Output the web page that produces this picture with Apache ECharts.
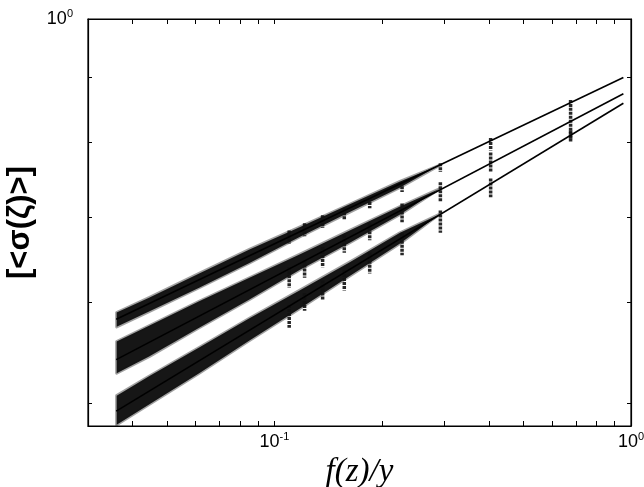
<!DOCTYPE html>
<html>
<head>
<meta charset="utf-8">
<script src="https://cdn.jsdelivr.net/npm/echarts@6/dist/echarts.min.js"></script>
<style>
html,body{margin:0;padding:0;background:#fff;}
#main{width:644px;height:487px;}
</style>
</head>
<body>
<div id="main"></div>
<script>
// fitted straight lines (log-log), [x, y] end points
var lineTop = [[0.036, 0.582], [0.952, 0.900]];
var lineMid = [[0.036, 0.541], [0.952, 0.874]];
var lineBot = [[0.036, 0.493], [0.952, 0.859]];

// dense point clouds: upper / lower edges at these x
var bandX = [0.0361, 0.0445, 0.0615, 0.0851, 0.1176, 0.1626, 0.225, 0.29];
var topUp = [0.589, 0.605, 0.632, 0.660, 0.687, 0.716, 0.746, 0.768];
var topLo = [0.574, 0.590, 0.616, 0.644, 0.675, 0.706, 0.738, 0.768];
var midUp = [0.559, 0.575, 0.601, 0.627, 0.654, 0.683, 0.713, 0.736];
var midLo = [0.528, 0.544, 0.573, 0.603, 0.636, 0.668, 0.703, 0.736];
var botUp = [0.507, 0.525, 0.553, 0.583, 0.613, 0.645, 0.680, 0.703];
var botLo = [0.481, 0.499, 0.528, 0.560, 0.593, 0.629, 0.667, 0.703];

// vertical streaks of points at discrete x: [x, yHigh, yLow]
var streakX = [0.110, 0.1215, 0.1365, 0.157, 0.185, 0.228, 0.292, 0.404, 0.677];
var topStreakHi = [0.683, 0.692, 0.702, 0.711, 0.724, 0.745, 0.771, 0.807, 0.864];
var topStreakLo = [0.667, 0.676, 0.686, 0.696, 0.711, 0.732, 0.759, 0.789, 0.852];
var midStreakHi = [0.639, 0.647, 0.663, 0.677, 0.692, 0.717, 0.745, 0.786, 0.852];
var midStreakLo = [0.616, 0.627, 0.639, 0.656, 0.671, 0.693, 0.719, 0.759, 0.804];
var botStreakHi = [0.597, 0.610, 0.624, 0.636, 0.656, 0.680, 0.708, 0.750, 0.818];
var botStreakLo = [0.573, 0.591, 0.602, 0.613, 0.632, 0.653, 0.680, 0.725, 0.801];

// ticks
var xTicks = [0.04, 0.05, 0.06, 0.07, 0.08, 0.09, 0.1, 0.2, 0.3, 0.4, 0.5, 0.6, 0.7, 0.8, 0.9, 1];
var xLabels = [0.1, 1];
var yTicks = [0.5, 0.6, 0.7, 0.8, 0.9, 1];
var yLabels = [1];

function powLabel(v){
	var e = Math.round(Math.log10(v));
	return '{base|10}{sup|' + e + '}';
}
var labRich = {
	base: {fontSize: 18, fontFamily: 'Liberation Sans', color: '#000'},
	sup: {fontSize: 11, fontFamily: 'Liberation Sans', color: '#000', padding: [0, 0, 11, 0]}
};

function bandSeries(up, lo){
	var pts = [];
	for (var i = 0; i < bandX.length; i++) pts.push([bandX[i], up[i], lo[i]]);
	return {
		type: 'custom',
		silent: true,
		data: pts,
		renderItem: function(params, api){
			if (params.dataIndex !== 0) return;
			var poly = [];
			for (var i = 0; i < pts.length; i++) poly.push(api.coord([pts[i][0], pts[i][1]]));
			for (var j = pts.length - 1; j >= 0; j--) poly.push(api.coord([pts[j][0], pts[j][2]]));
			return {type: 'polygon', shape: {points: poly},
				style: {fill: '#161616', stroke: 'rgba(20,20,20,0.4)', lineWidth: 3, lineJoin: 'round'}};
		}
	};
}

function streakSeries(hi, lo){
	var pts = [];
	for (var i = 0; i < streakX.length; i++) pts.push([streakX[i], hi[i], lo[i]]);
	return {
		type: 'custom',
		silent: true,
		data: pts,
		renderItem: function(params, api){
			var a = api.coord([api.value(0), api.value(1)]);
			var b = api.coord([api.value(0), api.value(2)]);
			return {type: 'line', shape: {x1: a[0], y1: a[1], x2: b[0], y2: b[1]},
				style: {stroke: '#111', lineWidth: 3.5, lineDash: [3, 1], opacity: 0.9}};
		}
	};
}

function fitLine(d){
	return {type: 'line', data: d, symbol: 'none', silent: true,
		lineStyle: {color: '#000', width: 1.6}, z: 5};
}

var myChart = echarts.init(document.getElementById('main'));

var option = {
	backgroundColor: '#fff',
	animation: false,
	grid: {left: 88, right: 13, top: 19, bottom: 61, outerBoundsMode: 'none', containLabel: false,
		show: true, borderColor: '#000', borderWidth: 1.2},
	xAxis: [{
		type: 'log', logBase: 10, min: 0.03, max: 1,
		name: 'f(z)/y', nameLocation: 'middle', nameGap: 22,
		nameTextStyle: {fontFamily: 'Liberation Serif', fontStyle: 'italic', fontSize: 33, color: '#000'},
		axisLine: {lineStyle: {color: '#000', width: 1.2}},
		axisTick: {inside: true, length: 5, customValues: xTicks, lineStyle: {color: '#000'}},
		axisLabel: {customValues: xLabels, formatter: powLabel, rich: labRich, margin: 5,
			fontSize: 18, fontFamily: 'Liberation Sans', color: '#000'},
		splitLine: {show: false}
	}, {
		type: 'log', logBase: 10, min: 0.03, max: 1, position: 'top',
		axisLine: {lineStyle: {color: '#000', width: 1.2}},
		axisTick: {inside: true, length: 5, customValues: xTicks, lineStyle: {color: '#000'}},
		axisLabel: {show: false},
		splitLine: {show: false}
	}],
	yAxis: [{
		type: 'log', logBase: 10, min: 0.48, max: 1,
		name: '[<σ(ζ)>]', nameLocation: 'middle', nameGap: 49, nameRotate: 90,
		nameTextStyle: {fontFamily: 'Liberation Sans', fontWeight: 'bold', fontSize: 31, color: '#000'},
		axisLine: {lineStyle: {color: '#000', width: 1.2}},
		axisTick: {inside: true, length: 4, customValues: yTicks, lineStyle: {color: '#000'}},
		axisLabel: {customValues: yLabels, formatter: powLabel, rich: labRich, margin: 15,
			fontSize: 18, fontFamily: 'Liberation Sans', color: '#000'},
		splitLine: {show: false}
	}, {
		type: 'log', logBase: 10, min: 0.48, max: 1, position: 'right',
		axisLine: {lineStyle: {color: '#000', width: 1.2}},
		axisTick: {inside: true, length: 4, customValues: yTicks, lineStyle: {color: '#000'}},
		axisLabel: {show: false},
		splitLine: {show: false}
	}],
	series: [
		bandSeries(topUp, topLo),
		bandSeries(midUp, midLo),
		bandSeries(botUp, botLo),
		streakSeries(topStreakHi, topStreakLo),
		streakSeries(midStreakHi, midStreakLo),
		streakSeries(botStreakHi, botStreakLo),
		fitLine(lineTop),
		fitLine(lineMid),
		fitLine(lineBot)
	]
};

myChart.setOption(option);
</script>
</body>
</html>
